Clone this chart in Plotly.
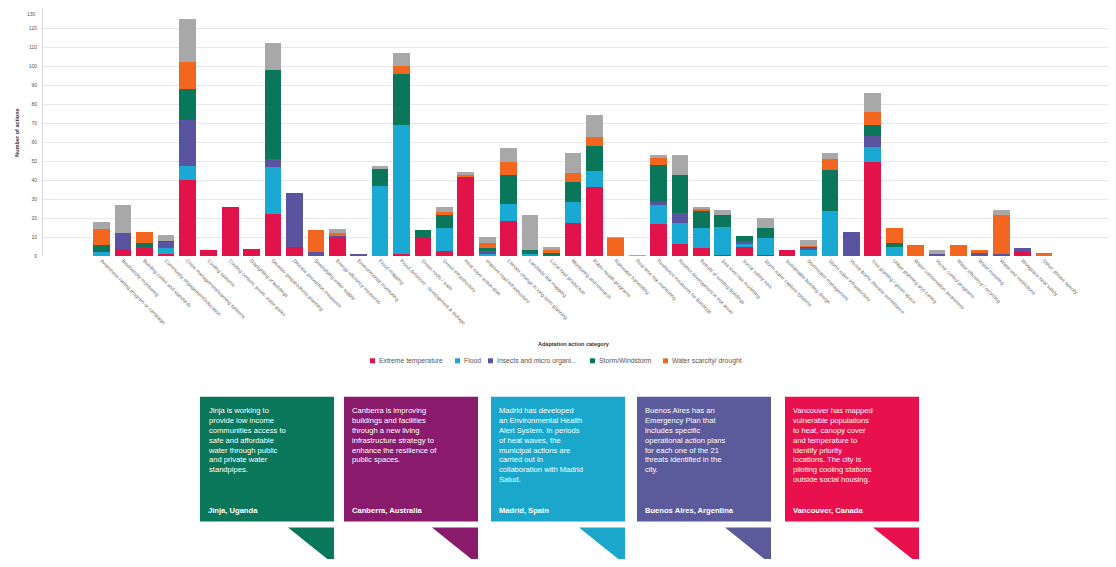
import plotly.graph_objects as go

categories = [
    "Awareness raising program or campaign",
    "Biodiversity monitoring",
    "Building codes and standards",
    "Community engagement/education",
    "Crisis management/warning systems",
    "Cooling systems",
    "Cooling centers, pools, water parks",
    "Daylighting of buildings",
    "Disaster preparedness planning",
    "Disease prevention measures",
    "Diversifying water supply",
    "Energy efficiency measures",
    "Environmental monitoring",
    "Flood mapping",
    "Flood defences - development & storage",
    "Green roofs / walls",
    "Green infrastructure",
    "Heat wave action plan",
    "Improve road infrastructure",
    "Climate change in long-term planning",
    "Landslide risk mapping",
    "Local food production",
    "Monitoring and research",
    "Public health programs",
    "Rainwater harvesting",
    "Real time risk monitoring",
    "Resilience measures for buildings",
    "Restrict development in risk areas",
    "Retrofit of existing buildings",
    "Sea level rise modelling",
    "Social safety nets",
    "Storm water capture systems",
    "Sustainable building design",
    "Stormwater management",
    "Storm water infrastructure",
    "Vector-borne disease surveillance",
    "Tree planting / green space",
    "Urban planning and zoning",
    "Water conservation awareness",
    "Vector control programs",
    "Water efficiency / recycling",
    "Water metering",
    "Water use restrictions",
    "Workplace heat safety",
    "Other: please specify",
]

extreme_temperature = [0, 3.5, 4.5, 1, 40, 3, 26, 3.5, 22, 4.5, 0, 10, 0, 0, 1,
                       9.5, 2.5, 42, 0, 18.5, 0, 0.5, 17.5, 36.5, 0, 0.3, 17, 6.5, 4, 0.5,
                       5, 0.5, 3, 0, 0, 0, 49.5, 0, 0, 0, 0, 0.5, 0, 3, 0]
flood = [2, 0, 0, 3, 7.5, 0, 0, 0, 25, 0, 0, 0, 0, 37, 68,
         0, 12.5, 0, 1, 9, 1, 0, 11, 8.5, 0, 0, 10, 11, 10.5, 15,
         1.5, 9, 0, 3.5, 23.5, 0, 8, 4.5, 0, 0, 0, 0, 0, 0, 0]
insects = [0, 8.5, 0, 3.5, 24, 0, 0, 0, 4, 28.5, 2, 1, 1, 0, 0,
           0, 0, 0, 2, 0, 0, 0, 0, 0, 0, 0, 1.5, 5, 0, 0,
           1.5, 0, 0, 1, 0, 12.8, 5.5, 0, 0, 1, 0, 1, 1, 1, 0]
storm = [4, 0, 2.5, 0.5, 16.5, 0, 0, 0, 47, 0, 0, 0, 0, 9, 27,
         4, 6.5, 0, 1, 15, 2, 1.5, 10.5, 13, 0, 0, 19.5, 20, 9.5, 6,
         2.5, 5, 0, 0.5, 22, 0, 6, 2.5, 0, 0, 0, 0, 0, 0, 0]
water_scarcity = [8, 0, 5.5, 0, 14, 0, 0, 0, 0, 0, 11.5, 1, 0, 0, 4,
                  0, 1.5, 0.5, 3, 7, 0, 1, 4.5, 4.5, 9.5, 0, 3.5, 0, 1, 0,
                  0, 0, 0, 0.5, 5.3, 0, 7, 7.5, 6, 0, 6, 1.5, 20.5, 0, 1.5]
other = [4, 15, 0, 3, 22.5, 0, 0, 0, 14, 0, 0, 2, 0, 1.5, 7,
         0, 3, 1.5, 3, 7.5, 18.5, 1.5, 10.5, 11.5, 0.5, 0.2, 1.5, 10.5, 1, 2.5,
         0, 5.5, 0, 3, 3.5, 0, 10, 0, 0, 2, 0, 0, 2.5, 0, 0]

series_names = ["Extreme temperature", "Flood", "Insects and micro organi...",
                "Storm/Windstorm", "Water scarcity/ drought", "Other"]
series_values = [extreme_temperature, flood, insects, storm, water_scarcity, other]
series_colors = ["#e2124b", "#1aa9d2", "#5a539f", "#0a775b", "#f2661f", "#a8a8a8"]

y_ticks = list(range(0, 131, 10))
y_max = 130

cards_text = [
    "Jinja is working to<br>provide low income<br>communities access to<br>safe and affordable<br>water through public<br>and private water<br>standpipes.",
    "Canberra is improving<br>buildings and facilities<br>through a new living<br>infrastructure strategy to<br>enhance the resilience of<br>public spaces.",
    "Madrid has developed<br>an Environmental Health<br>Alert System. In periods<br>of heat waves, the<br>municipal actions are<br>carried out in<br>collaboration with Madrid<br>Salud.",
    "Buenos Aires has an<br>Emergency Plan that<br>includes specific<br>operational action plans<br>for each one of the 21<br>threats identified in the<br>city.",
    "Vancouver has mapped<br>vulnerable populations<br>to heat, canopy cover<br>and temperature to<br>identify priority<br>locations. The city is<br>piloting cooling stations<br>outside social housing.",
]
cards_city = ["Jinja, Uganda", "Canberra, Australia", "Madrid, Spain",
              "Buenos Aires, Argentina", "Vancouver, Canada"]
cards_color = ["#0a775b", "#8a1a6c", "#1aa7cb", "#5b5a9b", "#e8104d"]

# ---- layout geometry (reference-page pixels; the page body adds an 8px offset) ----
OFF = 8
FIG_W, FIG_H = 1108, 551
L, R, T, B = 43 - OFF, 1112 - OFF, 8.5 - OFF, 256 - OFF
PW, PH = R - L, B - T


def px(x):
    return (x - OFF - L) / PW


def py(y):
    return (B - (y - OFF)) / PH


fig = go.Figure()
for name, vals, col in zip(series_names, series_values, series_colors):
    fig.add_trace(go.Bar(
        x=categories, y=vals, name=name, marker_color=col,
        marker_line_width=0, showlegend=False,
    ))

shapes = []
annotations = []

# top y tick label (would be clipped at the page edge as a normal tick label)
annotations.append(dict(xref="paper", yref="paper", x=px(38), y=1.0,
                        text=str(y_max), showarrow=False,
                        xanchor="right", yanchor="top",
                        font=dict(size=5, color="#555555", family="Liberation Sans")))

# compact legend (first five series)
legend_x = [370, 455, 488, 590, 663]
for i in range(5):
    x0 = legend_x[i]
    shapes.append(dict(type="rect", xref="paper", yref="paper",
                       x0=px(x0), x1=px(x0 + 5), y0=py(358.5), y1=py(363.5),
                       fillcolor=series_colors[i], line_width=0))
    annotations.append(dict(xref="paper", yref="paper", x=px(x0 + 7), y=py(361),
                            text=series_names[i], showarrow=False,
                            xanchor="left", yanchor="middle",
                            font=dict(size=6.8, color="#555555", family="Liberation Sans")))

# x-axis title
annotations.append(dict(xref="paper", yref="paper", x=px(574), y=py(344),
                        text="<b>Adaptation action category</b>", showarrow=False,
                        xanchor="center", yanchor="middle",
                        font=dict(size=5.5, color="#333333", family="Liberation Sans")))

# cards
card_x = [200, 344, 491, 637, 785]
card_w = 134
for i in range(5):
    x0 = card_x[i]
    x1 = x0 + card_w
    shapes.append(dict(type="rect", xref="paper", yref="paper",
                       x0=px(x0), x1=px(x1), y0=py(522), y1=py(397),
                       fillcolor=cards_color[i], line_width=0, layer="above"))
    shapes.append(dict(type="path", xref="paper", yref="paper",
                       path=f"M {px(x1 - 46)},{py(528)} L {px(x1)},{py(528)} L {px(x1)},{py(565)} Z",
                       fillcolor=cards_color[i], line_width=0))
    annotations.append(dict(xref="paper", yref="paper", x=px(x0 + 6), y=py(404),
                            text=cards_text[i], showarrow=False, align="left",
                            xanchor="left", yanchor="top",
                            font=dict(size=7.6, color="white", family="Liberation Sans")))
    annotations.append(dict(xref="paper", yref="paper", x=px(x0 + 6), y=py(511),
                            text="<b>" + cards_city[i] + "</b>", showarrow=False, align="left",
                            xanchor="left", yanchor="middle",
                            font=dict(size=7.6, color="white", family="Liberation Sans")))

fig.update_layout(
    width=FIG_W, height=FIG_H,
    margin=dict(l=L, r=FIG_W - R, t=T, b=FIG_H - B),
    barmode="stack", bargap=0.22,
    plot_bgcolor="white", paper_bgcolor="white",
    font=dict(family="Liberation Sans", color="#444444"),
    shapes=shapes, annotations=annotations,
    showlegend=False,
)
fig.update_xaxes(
    type="category", range=[-2.74, 47.17], tickangle=45,
    tickfont=dict(size=5, color="#666666"), showgrid=False,
    ticks="", showline=False,
    automargin=False,
)
fig.update_yaxes(
    range=[0, y_max], tickvals=y_ticks, ticktext=[str(v) for v in y_ticks],
    tickfont=dict(size=5, color="#555555"),
    showgrid=True, gridcolor="#e8e8e8", gridwidth=1,
    showline=True, linecolor="#d8d8d8", linewidth=1,
    zeroline=False, ticks="", ticklabelstandoff=4,
    title=dict(text="<b>Number of actions</b>", font=dict(size=5.5, color="#333333"),
               standoff=8),
    automargin=False,
)

fig.write_html("out.html")
